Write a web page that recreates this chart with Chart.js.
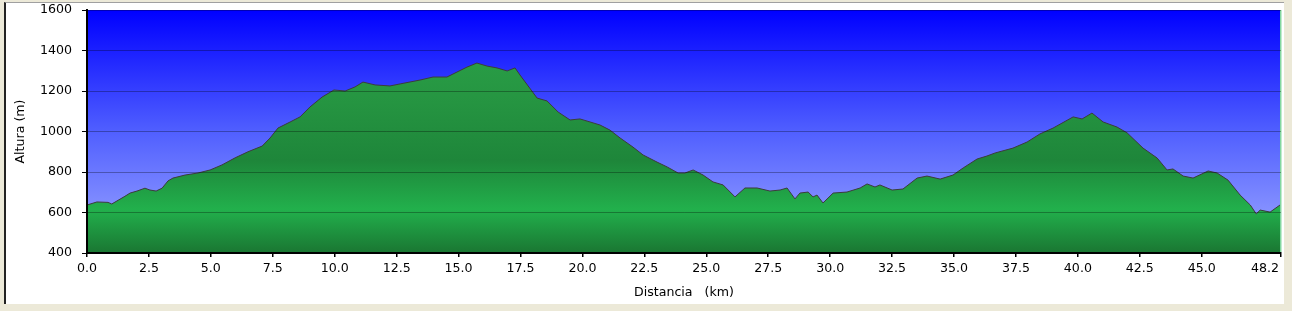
<!DOCTYPE html>
<html>
<head>
<meta charset="utf-8">
<script src="https://cdn.jsdelivr.net/npm/chart.js@4/dist/chart.umd.min.js"></script>
<style>
  html, body { margin: 0; padding: 0; background: #ECE9D8; width: 1292px; height: 311px; overflow: hidden; }
  #panel { position: absolute; left: 4px; top: 2px; width: 1278px; height: 301px; background: #fff;
           border-left: 2px solid #222; border-top: 1px solid #a0a0a0; }
  #chart { position: absolute; left: 0; top: 0; }
</style>
</head>
<body>
<div id="panel"></div>
<canvas id="chart" width="1292" height="311"></canvas>
<script>
// perfil de altura: distancia (km) y altura (m)
const distKm = [
  0.0, 0.4, 0.85, 1.0, 1.53, 1.74, 2.02, 2.34, 2.54, 2.79, 3.03, 3.27, 3.47, 3.96, 4.48, 4.97,
  5.45, 5.98, 6.5, 7.07, 7.39, 7.71, 8.2, 8.6, 9.0, 9.49, 9.97, 10.42, 10.82, 11.14, 11.63, 12.23,
  12.64, 13.44, 13.97, 14.53, 15.34, 15.74, 16.15, 16.55, 16.96, 17.28, 17.48, 18.17, 18.57, 19.02,
  19.5, 19.9, 20.31, 20.71, 21.11, 21.52, 22.04, 22.45, 23.01, 23.42, 23.86, 24.14, 24.47, 24.87,
  25.27, 25.68, 26.16, 26.56, 27.05, 27.57, 27.98, 28.26, 28.58, 28.78, 29.11, 29.31, 29.47, 29.71,
  30.12, 30.68, 31.21, 31.49, 31.81, 32.01, 32.5, 32.94, 33.51, 33.91, 34.44, 34.96, 35.37, 35.93,
  36.33, 36.66, 37.38, 37.95, 38.47, 39.0, 39.81, 40.17, 40.57, 41.02, 41.58, 41.99, 42.63, 43.2,
  43.6, 43.84, 44.25, 44.65, 45.26, 45.62, 46.06, 46.55, 46.96, 47.2, 47.36, 47.76, 48.16, 48.2
];
const altM = [
  637, 652, 650, 642, 680, 696, 706, 720, 711, 706, 720, 756, 770, 785, 795, 810,
  835, 870, 900, 928, 968, 1017, 1047, 1072, 1121, 1170, 1205, 1200, 1220, 1244, 1230, 1225,
  1235, 1254, 1269, 1269, 1318, 1338, 1323, 1314, 1299, 1314, 1279, 1165, 1151, 1096,
  1057, 1062, 1047, 1032, 1007, 968, 923, 884, 849, 825, 795, 795, 810, 785,
  751, 736, 677, 721, 721, 706, 711, 721, 667, 696, 701, 677, 686, 647,
  696, 701, 721, 741, 726, 736, 711, 716, 770, 780, 765, 785, 820, 864,
  879, 894, 918, 948, 988, 1017, 1072, 1062, 1091, 1047, 1022, 993, 918, 869,
  810, 815, 780, 770, 805, 795, 760, 686, 637, 593, 612, 602, 637, 640
];
const xTicks = [0, 2.5, 5, 7.5, 10, 12.5, 15, 17.5, 20, 22.5, 25, 27.5, 30, 32.5, 35, 37.5, 40, 42.5, 45, 48.2];
const yTicks = [400, 600, 800, 1000, 1200, 1400, 1600];

Chart.defaults.font.family = '"DejaVu Sans", Verdana, sans-serif';
Chart.defaults.font.size = 12.6;
Chart.defaults.color = '#000';

// fondo azul degradado del area del grafico
const plotBackground = {
  id: 'plotBackground',
  beforeDraw(chart) {
    const { ctx, chartArea: a } = chart;
    const g = ctx.createLinearGradient(0, a.top, 0, a.bottom);
    g.addColorStop(0, 'rgb(0,0,255)');
    g.addColorStop(0.5, 'rgb(80,95,255)');
    g.addColorStop(1, 'rgb(160,170,255)');
    ctx.save();
    ctx.fillStyle = g;
    ctx.fillRect(a.left, a.top, a.right - a.left, a.bottom - a.top);
    ctx.restore();

    // ultima etiqueta (48.2) alineada a la derecha de su marca
    const xs = chart.scales.x;
    const items = xs.getLabelItems();
    const last = items[items.length - 1];
    if (last) {
      last.options.textAlign = 'right';
      last.options.translation[0] = xs.getPixelForValue(xTicks[xTicks.length - 1]) - 2;
    }
  }
};

function greenFill(context) {
  const chart = context.chart;
  const a = chart.chartArea;
  if (!a) return 'rgb(34,160,70)';
  const g = chart.ctx.createLinearGradient(0, a.top, 0, a.bottom);
  g.addColorStop(0, 'rgb(44,165,75)');
  g.addColorStop(0.35, 'rgb(38,150,66)');
  g.addColorStop(0.62, 'rgb(30,134,58)');
  g.addColorStop(0.82, 'rgb(34,176,76)');
  g.addColorStop(1, 'rgb(26,118,50)');
  return g;
}

new Chart(document.getElementById('chart'), {
  type: 'line',
  data: {
    datasets: [{
      data: distKm.map((d, i) => ({ x: d, y: altM[i] })),
      borderColor: '#3c3c3c',
      borderWidth: 1,
      backgroundColor: greenFill,
      fill: 'start',
      pointRadius: 0,
      tension: 0
    }]
  },
  options: {
    responsive: false,
    animation: false,
    layout: { padding: { top: 10, right: 11, bottom: 0, left: 0 } },
    plugins: { legend: { display: false }, tooltip: { enabled: false } },
    scales: {
      x: {
        type: 'linear',
        min: 0,
        max: 48.2,
        afterBuildTicks: s => { s.ticks = xTicks.map(v => ({ value: v })); },
        afterFit: s => { s.height = 58; s.paddingLeft = 0; s.paddingRight = 0; },
        ticks: { callback: v => Number(v).toFixed(1), maxRotation: 0, autoSkip: false, padding: 4 },
        grid: {
          color: c => (c.tick && c.tick.value === 48.2) ? 'rgba(130,215,160,1)' : 'rgba(0,0,0,0)',
          tickColor: '#000',
          tickLength: 4,
          lineWidth: 1.5,
          z: 1
        },
        border: { color: '#000', width: 2, z: 1 },
        title: { display: true, text: 'Distancia   (km)', padding: { top: 0, bottom: 11 } }
      },
      y: {
        min: 400,
        max: 1600,
        afterBuildTicks: s => { s.ticks = yTicks.map(v => ({ value: v })); },
        afterFit: s => { s.width = 87; s.paddingTop = 0; s.paddingBottom = 0; },
        ticks: { callback: v => String(v), padding: 10 },
        grid: { color: 'rgba(0,0,0,0.3)', tickColor: '#000', tickLength: 5, lineWidth: 1, z: 1 },
        border: { color: '#000', width: 2, z: 1 },
        title: { display: true, text: 'Altura (m)', padding: { top: 13, bottom: 0 } }
      }
    }
  },
  plugins: [plotBackground]
});
</script>
</body>
</html>
